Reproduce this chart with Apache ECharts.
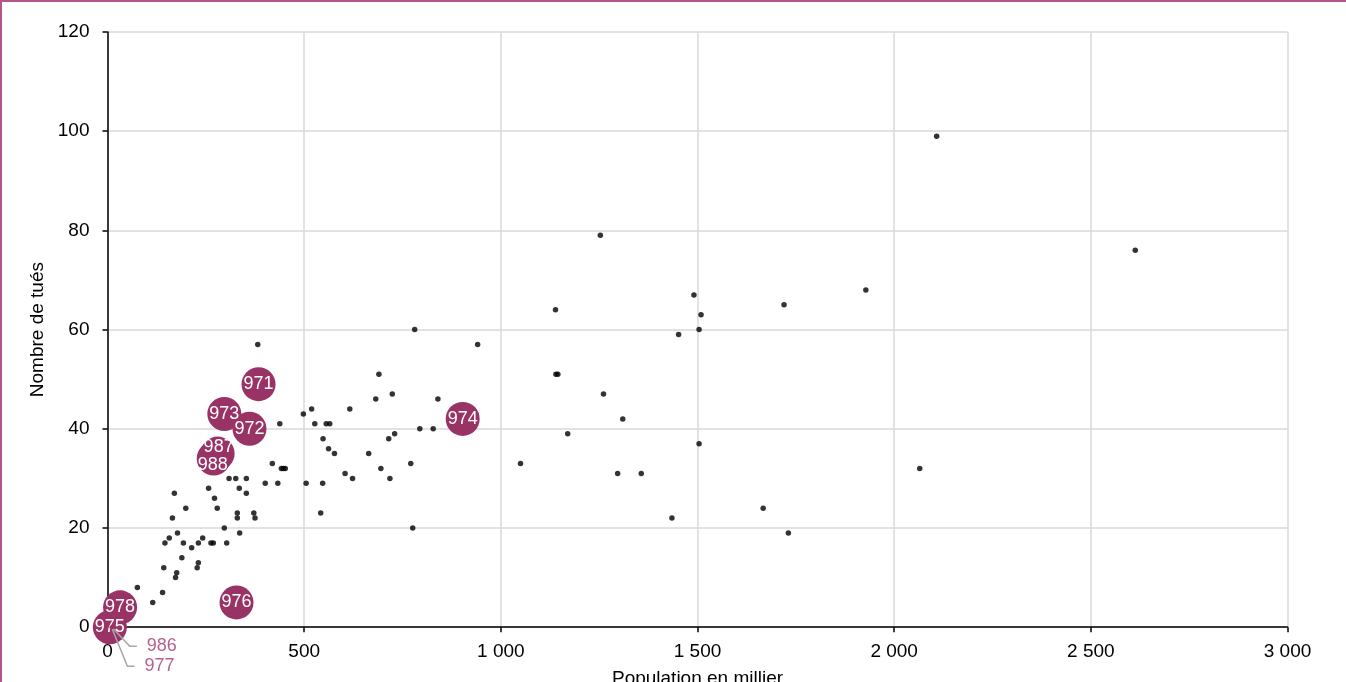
<!DOCTYPE html>
<html>
<head>
<meta charset="utf-8">
<script src="https://cdn.jsdelivr.net/npm/echarts@6/dist/echarts.min.js"></script>
<style>
  html, body { margin: 0; padding: 0; background: #fff; }
  #wrap { position: relative; width: 1346px; height: 682px; overflow: hidden; }
  #frame { position: absolute; left: 0; top: 0; width: 1400px; height: 700px; border-top: 2px solid #b4558a; border-left: 2px solid #b4558a; box-sizing: border-box; pointer-events: none; z-index: 2; }
  #chart { position: absolute; left: 0; top: 0; width: 1346px; height: 682px; }
</style>
</head>
<body>
<div id="wrap">
  <div id="chart"></div>
  <div id="frame"></div>
</div>
<script>
// Metropolitan departments: population (thousands) and number killed
const metroPop = [76, 115, 140, 143, 146, 157, 170, 165, 178, 193, 199, 189, 176, 173, 214, 231, 242, 231, 228, 257,
  272, 279, 263, 269, 297, 303, 309, 326, 353, 335, 353, 330, 330, 336, 372, 375, 401, 419, 433, 442,
  447, 452, 382, 438, 781, 941, 690, 682, 724, 840, 519, 498, 616, 527, 556, 565, 794, 828, 730, 715,
  548, 562, 577, 664, 771, 604, 623, 695, 718, 505, 547, 542, 776, 1140, 1145, 1261, 1310, 1170, 1050, 1297,
  1357, 1253, 1139, 1491, 1509, 1504, 1452, 1504, 1435, 1667, 1731, 2108, 1928, 1720, 2613, 2065];
const metroKilled = [8, 5, 7, 12, 17, 18, 27, 22, 19, 17, 24, 14, 11, 10, 16, 17, 18, 13, 12, 28,
  26, 24, 17, 17, 20, 17, 30, 30, 30, 28, 27, 23, 22, 19, 23, 22, 29, 33, 29, 32,
  32, 32, 57, 41, 60, 57, 51, 46, 47, 46, 44, 43, 44, 41, 41, 41, 40, 40, 39, 38,
  38, 36, 35, 35, 33, 31, 30, 32, 30, 29, 29, 23, 20, 51, 51, 47, 42, 39, 33, 31,
  31, 79, 64, 67, 63, 60, 59, 37, 22, 24, 19, 99, 68, 65, 76, 32];

// Overseas departments / territories shown as labelled bubbles
const domCodes = ['971', '972', '973', '974', '976', '978', '975', '987', '988'];
const domPop = [384, 361, 297, 903, 328, 32, 6, 280, 270];
const domKilled = [49, 40, 43, 42, 5, 4, 0, 35, 34];

// Small territories with callout labels
const smallCodes = ['986', '977'];
const smallPop = [11, 10];
const smallKilled = [0, 0];

const xTicks = { min: 0, max: 3000, interval: 500 };
const yTicks = { min: 0, max: 120, interval: 20 };

const FONT = "'Liberation Sans', Arial, sans-serif";
const BUBBLE = '#993366';

const labelOffsets = { '987': [1, -7], '988': [-1, 6] };
const calloutShift = { '986': [18, 19], '977': [16, 39] };
const calloutPad = { '986': [0, 0, 0, 10], '977': [0, 0, 0, 10] };

function fmt(v) {
  return String(v).replace(/\B(?=(\d{3})+(?!\d))/g, ' ');
}

const metroData = metroPop.map((p, i) => [p, metroKilled[i]]);
const domData = domCodes.map((c, i) => {
  const item = { name: c, value: [domPop[i], domKilled[i]] };
  if (labelOffsets[c]) item.label = { offset: labelOffsets[c] };
  return item;
});
const smallData = smallCodes.map((c, i) => ({
  name: c,
  value: [smallPop[i], smallKilled[i]],
  label: { padding: calloutPad[c], backgroundColor: 'rgba(255,255,255,0)' }
}));

const chart = echarts.init(document.getElementById('chart'), null, { renderer: 'canvas' });
chart.setOption({
  animation: false,
  textStyle: { fontFamily: FONT },
  grid: { left: 107.5, right: 58.5, top: 32, bottom: 54.8, containLabel: false, outerBoundsMode: 'none' },
  xAxis: {
    type: 'value', min: xTicks.min, max: xTicks.max, interval: xTicks.interval,
    name: 'Population en millier', nameLocation: 'middle', nameGap: 42,
    nameTextStyle: { fontSize: 19, color: '#000', fontFamily: FONT },
    axisLine: { show: true, onZero: false, lineStyle: { color: '#000', width: 1.5 } },
    axisTick: { show: true, length: 5, lineStyle: { color: '#000', width: 1.5 } },
    axisLabel: { fontSize: 19, color: '#000', margin: 15, fontFamily: FONT, formatter: fmt },
    splitLine: { show: true, lineStyle: { color: '#d9d9d9', width: 1.5 } }
  },
  yAxis: {
    type: 'value', min: yTicks.min, max: yTicks.max, interval: yTicks.interval,
    name: 'Nombre de tués', nameLocation: 'middle', nameGap: 58, nameRotate: 90,
    nameTextStyle: { fontSize: 19, color: '#000', fontFamily: FONT },
    axisLine: { show: true, onZero: false, lineStyle: { color: '#000', width: 1.5 } },
    axisTick: { show: true, length: 5, lineStyle: { color: '#000', width: 1.5 } },
    axisLabel: { fontSize: 19, color: '#000', margin: 18, fontFamily: FONT },
    splitLine: { show: true, lineStyle: { color: '#d9d9d9', width: 1.5 } }
  },
  series: [
    {
      type: 'scatter', z: 2, data: metroData, symbolSize: 5.5,
      itemStyle: { color: '#000' }, silent: true
    },
    {
      type: 'scatter', z: 3, data: domData, symbolSize: 34,
      itemStyle: { color: BUBBLE, opacity: 1 },
      label: {
        show: true, position: 'inside', color: '#fff', fontSize: 18, fontFamily: FONT,
        formatter: p => p.name
      },
      silent: true
    },
    {
      type: 'scatter', z: 5, data: smallData, symbolSize: 4,
      itemStyle: { color: BUBBLE },
      label: {
        show: true, position: 'right', distance: 5, color: '#a3386d', fontSize: 18, fontFamily: FONT,
        formatter: p => p.name
      },
      labelLine: { show: true, length2: 7, lineStyle: { color: '#a6a6a6', width: 1.5 } },
      labelLayout: p => {
        const s = calloutShift[smallCodes[p.dataIndex]];
        return { dx: s[0], dy: s[1] };
      },
      silent: true
    }
  ]
});
</script>
</body>
</html>
